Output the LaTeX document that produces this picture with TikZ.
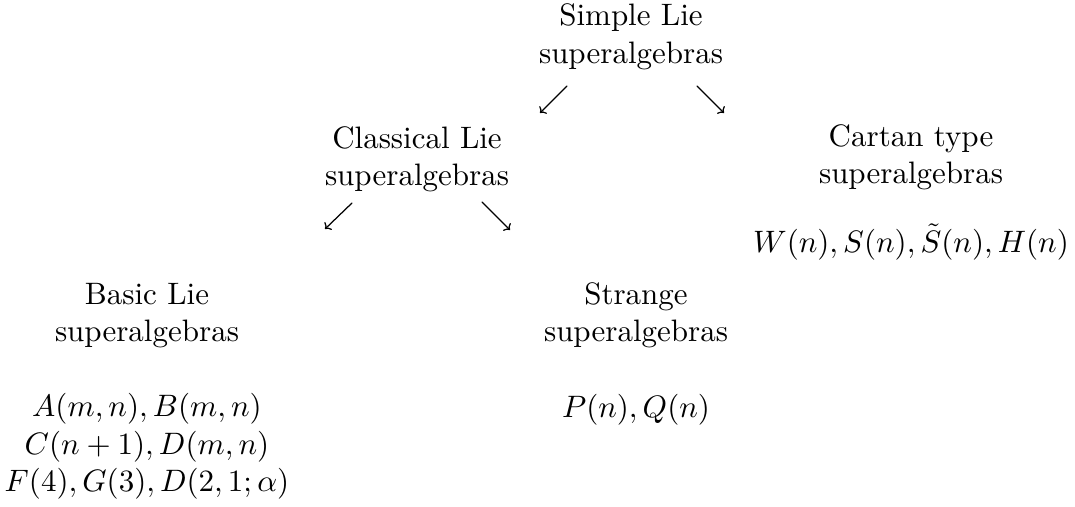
\documentclass[tikz,border=0pt]{standalone}
\usepackage{amsmath,amssymb}
\usepackage{tikz}
\usetikzlibrary{arrows.meta}
\tikzset{
every picture/.style={line cap=round,line join=round},
class label/.style={align=center, inner sep=0pt},
class list/.style={align=center, inner sep=0pt},
fig arrow/.style={-{To[length=1.6pt,width=3.4pt]}, line width=0.4pt}
}
\begin{document}
\begin{tikzpicture}[x=0.32258pt,y=-0.32258pt]
\useasboundingbox (0,0) rectangle (1075,506);
% families
\node[class label] (simple) at (631,36.75) {Simple Lie\\superalgebras};
\node[class label] (classical) at (417,159) {Classical Lie\\superalgebras};
\node[class label] (cartan) at (911,157) {Cartan type\\superalgebras};
\node[class label] (basic) at (147,315.75) {Basic Lie\\superalgebras};
\node[class label] (strange) at (636,315.5) {Strange\\superalgebras};
% members
\node[class list,anchor=base] (cartanlist) at (911,252) {$W(n),S(n),\tilde{S}(n),H(n)$};
\node[class list] (basiclist) at (147,446.25) {$A(m,n),B(m,n)$\\$C(n+1),D(m,n)$\\$F(4),G(3),D(2,1;\alpha)$};
\node[class list,anchor=base] (strangelist) at (636,417) {$P(n),Q(n)$};
% arrows
\coordinate (s1) at (567,86);  \coordinate (e1) at (540,113);
\coordinate (s2) at (697,86);  \coordinate (e2) at (724,113);
\coordinate (s3) at (352,203); \coordinate (e3) at (325,229);
\coordinate (s4) at (482,202); \coordinate (e4) at (510,230);
\draw[fig arrow] (s1) -- (e1);
\draw[fig arrow] (s2) -- (e2);
\draw[fig arrow] (s3) -- (e3);
\draw[fig arrow] (s4) -- (e4);
\end{tikzpicture}
\end{document}
